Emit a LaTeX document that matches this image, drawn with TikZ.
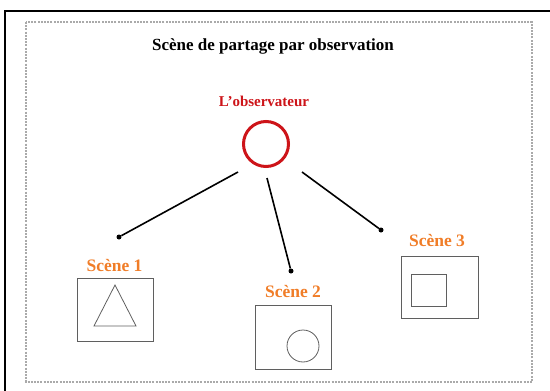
\documentclass[tikz,border=0pt]{standalone}
\usepackage{fontspec}
\setmainfont{Liberation Serif}
\begin{document}
\begin{tikzpicture}[x=1pt,y=-1pt,
  ttl/.style={font=\fontsize{17}{20}\selectfont\bfseries, text=black},
  obslabel/.style={font=\fontsize{15}{17}\selectfont\bfseries, text=obsred},
  scnlabel/.style={font=\fontsize{17.5}{20}\selectfont\bfseries, text=scnorange},
  scnbox/.style={draw=boxgray, line width=1pt},
  shp/.style={draw=boxgray, line width=0.8pt},
  link/.style={draw=black, line width=1.6pt},
  dotnode/.style={circle, fill=black, inner sep=0pt, minimum size=5pt}]
\definecolor{obsred}{RGB}{205,20,25}
\definecolor{scnorange}{RGB}{240,125,40}
\definecolor{boxgray}{RGB}{95,95,95}
\definecolor{dashgray}{RGB}{170,170,170}
\useasboundingbox (0,0) rectangle (550,391);
% outer frame
\draw[black, line width=1.6pt] (5,395) -- (5,11) -- (555,11);
% dashed area
\draw[dashgray, line width=1.3pt, dash pattern=on 2pt off 1.2pt] (26,22) rectangle (532,382);
% title
\node[ttl] (title) at (273,46) {Scène de partage par observation};
% observer
\node[obslabel] (obslbl) at (264,101) {L'observateur};
\node[circle, draw=obsred, line width=3pt, minimum size=45pt, inner sep=0pt] (obs) at (266,144) {};
% connector starts
\coordinate (s1) at (238,172);
\coordinate (s2) at (267,178);
\coordinate (s3) at (302,172);
% dots
\node[dotnode] (d1) at (119,237) {};
\node[dotnode] (d2) at (291,271) {};
\node[dotnode] (d3) at (381,230) {};
\draw[link] (s1) -- (d1);
\draw[link] (s2) -- (d2);
\draw[link] (s3) -- (d3);
% scene 1
\node[scnlabel] (l1) at (114.5,266) {Scène 1};
\node[scnbox, minimum width=76pt, minimum height=63pt, inner sep=0pt] (b1) at (115,309.5) {};
\draw[shp] (115,285) -- (94,326) -- (136,326) -- cycle;
% scene 2
\node[scnlabel] (l2) at (293,292) {Scène 2};
\node[scnbox, minimum width=76pt, minimum height=64pt, inner sep=0pt] (b2) at (293,337) {};
\node[shp, circle, minimum size=32pt, inner sep=0pt] (c2) at (303,346) {};
% scene 3
\node[scnlabel] (l3) at (437,241) {Scène 3};
\node[scnbox, minimum width=77pt, minimum height=62pt, inner sep=0pt] (b3) at (439.5,287) {};
\node[shp, minimum width=35pt, minimum height=32pt, inner sep=0pt] (q3) at (428.5,290) {};
\end{tikzpicture}
\end{document}
